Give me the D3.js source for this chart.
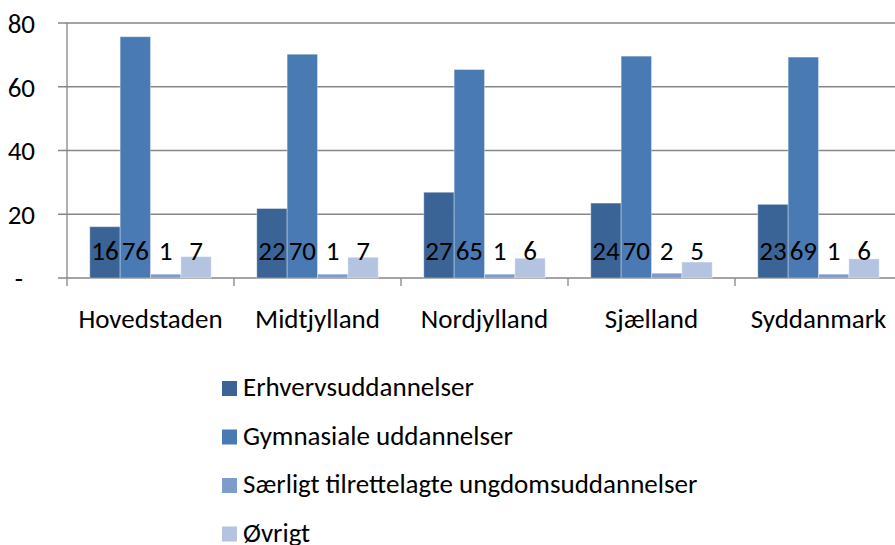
<!DOCTYPE html>
<html>
<head>
<meta charset="utf-8">
<script src="https://cdn.jsdelivr.net/npm/d3@7"></script>
<style>
  body { margin: 0; background: #fff; }
  svg text { font-family: Calibri, Carlito, "Liberation Sans", Arial, sans-serif; fill: #000; }
</style>
</head>
<body>
<div id="chart"></div>
<script>
// regions (categories)
var regions = ["Hovedstaden", "Midtjylland", "Nordjylland", "Sjælland", "Syddanmark"];

// series names
var seriesNames = ["Erhvervsuddannelser", "Gymnasiale uddannelser", "Særligt tilrettelagte ungdomsuddannelser", "Øvrigt"];

// values per series, in region order
var erhverv = [16.1, 21.8, 26.9, 23.5, 23.1];
var gymnasiale = [75.7, 70.2, 65.4, 69.6, 69.3];
var saerligt = [1.2, 1.2, 1.2, 1.5, 1.2];
var oevrigt = [6.7, 6.5, 6.2, 5.0, 6.0];

var yTicks = [0, 20, 40, 60, 80];

var colors = ["#3b6496", "#4a7ab4", "#7e9ccb", "#b4c4e0"];

var seriesValues = [erhverv, gymnasiale, saerligt, oevrigt];

var width = 895, height = 545;
var fontSize = "27px";

var svg = d3.select("#chart")
    .append("svg")
    .attr("width", width)
    .attr("height", height);

// plot area (runs a little past the right edge, like the original)
var plot = { left: 67, right: 902, top: 23, bottom: 278 };

var x0 = d3.scaleBand()
    .domain(regions)
    .range([plot.left, plot.right]);

// excel gap width 150% -> bars take 4/(4+1.5) of each category
var x1 = d3.scaleBand()
    .domain(d3.range(seriesNames.length))
    .range([0, x0.bandwidth()])
    .paddingOuter(0.75)
    .paddingInner(0);

var y = d3.scaleLinear()
    .domain([0, 80])
    .range([plot.bottom, plot.top]);

// gridlines
svg.append("g")
    .selectAll("line")
    .data(yTicks)
    .enter()
    .append("line")
    .attr("x1", plot.left - 9)
    .attr("x2", width)
    .attr("y1", function(d){ return y(d); })
    .attr("y2", function(d){ return y(d); })
    .attr("stroke", "#868686")
    .attr("stroke-width", 1.3);

// y axis labels
var yAxis = d3.axisLeft(y)
    .tickValues(yTicks)
    .tickSize(0)
    .tickPadding(0)
    .tickFormat(function(d){ return d === 0 ? "-" : d; });

var yg = svg.append("g")
    .attr("transform", "translate(35,0)")
    .call(yAxis);
yg.select(".domain").remove();
yg.selectAll("text")
    .style("font-size", fontSize)
    .attr("dy", "0.35em");
yg.selectAll(".tick")
    .filter(function(d){ return d === 0; })
    .select("text")
    .attr("x", -12);

// bars
var groups = svg.append("g")
    .selectAll("g")
    .data(regions)
    .enter()
    .append("g")
    .attr("transform", function(d){ return "translate(" + x0(d) + ",0)"; });

groups.selectAll("rect")
    .data(function(d, i){
        return seriesValues.map(function(vals, s){ return { s: s, v: vals[i] }; });
    })
    .enter()
    .append("rect")
    .attr("x", function(d){ return x1(d.s); })
    .attr("width", x1.bandwidth())
    .attr("y", function(d){ return y(d.v); })
    .attr("height", function(d){ return y(0) - y(d.v); })
    .attr("fill", function(d){ return colors[d.s]; })
    .attr("stroke", "#ffffff")
    .attr("stroke-opacity", 0.35)
    .attr("stroke-width", 1);

// data labels
groups.selectAll("text.val")
    .data(function(d, i){
        return seriesValues.map(function(vals, s){ return { s: s, v: vals[i] }; });
    })
    .enter()
    .append("text")
    .attr("class", "val")
    .attr("x", function(d){ return x1(d.s) + x1.bandwidth() / 2; })
    .attr("y", 260)
    .attr("text-anchor", "middle")
    .style("font-size", fontSize)
    .text(function(d){ return Math.round(d.v); });

// x axis line and ticks
svg.append("line")
    .attr("x1", plot.left)
    .attr("x2", plot.left)
    .attr("y1", plot.top)
    .attr("y2", plot.bottom)
    .attr("stroke", "#868686")
    .attr("stroke-width", 1.3);

var boundaries = regions.map(function(d){ return x0(d); }).concat([plot.right]);
svg.append("g")
    .selectAll("line")
    .data(boundaries)
    .enter()
    .append("line")
    .attr("x1", function(d){ return d; })
    .attr("x2", function(d){ return d; })
    .attr("y1", plot.bottom)
    .attr("y2", plot.bottom + 8)
    .attr("stroke", "#868686")
    .attr("stroke-width", 1.3);

// category labels
svg.append("g")
    .selectAll("text")
    .data(regions)
    .enter()
    .append("text")
    .attr("x", function(d){ return x0(d) + x0.bandwidth() / 2; })
    .attr("y", 328)
    .attr("text-anchor", "middle")
    .style("font-size", fontSize)
    .text(function(d){ return d; });

// legend
var legend = svg.append("g")
    .attr("transform", "translate(222,381)");

var item = legend.selectAll("g")
    .data(seriesNames)
    .enter()
    .append("g")
    .attr("transform", function(d, i){ return "translate(0," + (i * 48.5) + ")"; });

item.append("rect")
    .attr("width", 15)
    .attr("height", 15)
    .attr("fill", function(d, i){ return colors[i]; });

item.append("text")
    .attr("x", 21)
    .attr("y", 15)
    .style("font-size", fontSize)
    .text(function(d){ return d; });
</script>
</body>
</html>
